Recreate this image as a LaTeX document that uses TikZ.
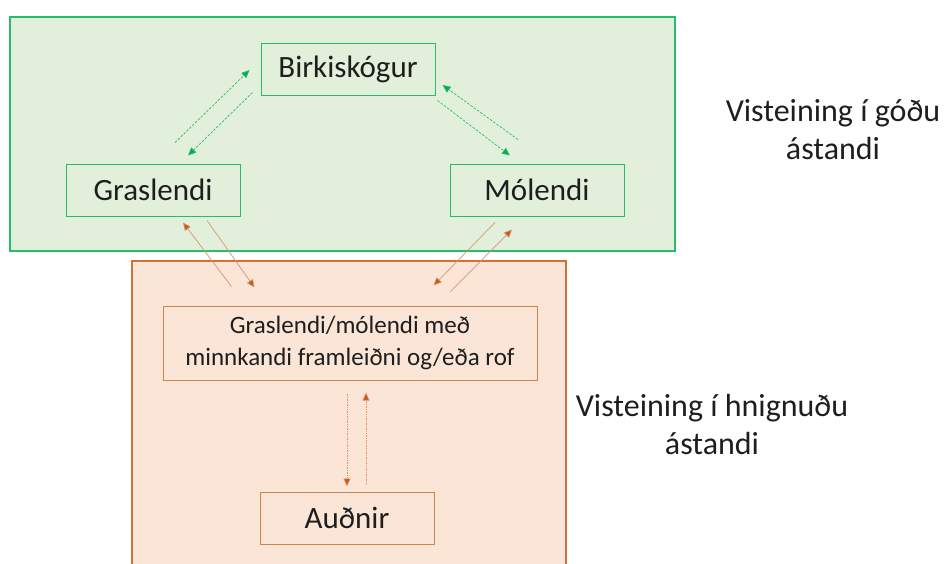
\documentclass[tikz,border=0pt]{standalone}
\usepackage{fontspec}
\setmainfont{Carlito}
\usetikzlibrary{arrows.meta, positioning}
\definecolor{goodgreen}{RGB}{0, 176, 80}
\definecolor{goodfill}{RGB}{226, 239, 218}
\definecolor{badorange}{RGB}{197, 90, 17}
\definecolor{badfill}{RGB}{251, 229, 214}
\definecolor{badline}{RGB}{214, 150, 110}
\definecolor{labeltext}{RGB}{30, 30, 30}

\tikzset{
  greenbox/.style={draw=goodgreen!85, line width=1pt, minimum width=174pt, minimum height=52pt, text=labeltext, font=\fontsize{31}{34}\selectfont},
  orangebox/.style={draw=badorange!75, line width=1pt, minimum width=174pt, minimum height=52pt, text=labeltext, font=\fontsize{31}{34}\selectfont},
  greenarrow/.style={draw=goodgreen!85, line width=0.7pt, dash pattern=on 2.5pt off 1.5pt, -{Triangle[length=8pt, width=7pt, fill=goodgreen]}},
  orangearrow/.style={draw=badline, line width=0.7pt, -{Triangle[length=8pt, width=7pt, fill=badorange]}},
  dotarrow/.style={draw=badline, line width=0.7pt, densely dotted, -{Triangle[length=8pt, width=7pt, fill=badorange]}},
  statelabel/.style={align=center, text=labeltext, font=\fontsize{32}{38}\selectfont}
}

\begin{document}
\begin{tikzpicture}[x=1pt, y=-1pt]
  \useasboundingbox (0,0) rectangle (944,563);
  \clip (0,0) rectangle (944,563);

  % the two states
  \draw[goodgreen!85, line width=1.5pt, fill=goodfill] (10,17) rectangle (675,251);
  \draw[badorange!85, line width=1.5pt, fill=badfill] (132,261) rectangle (566,575);

  % vegetation types
  \node[greenbox] (birk) at (348,69) {Birkiskógur};
  \node[greenbox] (gras) at (153,190) {Graslendi};
  \node[greenbox] (mol) at (537,190) {Mólendi};
  \node[orangebox, minimum width=374pt, minimum height=74pt, align=center,
        font=\fontsize{25}{32}\selectfont] (mid) at (350,343)
        {Graslendi/mólendi með\\minnkandi framleiðni og/eða rof};
  \node[orangebox] (aud) at (347,518) {Auðnir};

  \node[statelabel] (good) at (833,130) {Visteining í góðu\\ástandi};
  \node[statelabel] (bad) at (712,424) {Visteining í hnignuðu\\ástandi};

  % transitions within the good state
  \draw[greenarrow] ([shift={(22,-21)}]gras.north) -- ([shift={(-11,1)}]birk.west);
  \draw[greenarrow] ([shift={(-8,-3)}]birk.south west) -- ([shift={(35,-8)}]gras.north);
  \draw[greenarrow] ([shift={(-19,-24)}]mol.north) -- ([shift={(7,16)}]birk.east);
  \draw[greenarrow] ([shift={(2,5)}]birk.south east) -- ([shift={(-27,-8)}]mol.north);

  % degradation and recovery
  \draw[orangearrow] ([shift={(69,-19)}]mid.north west) -- ([shift={(30,6)}]gras.south);
  \draw[orangearrow] ([shift={(54,4)}]gras.south) -- ([shift={(92,-18)}]mid.north west);
  \draw[orangearrow] ([shift={(-42,6)}]mol.south) -- ([shift={(-104,-20)}]mid.north east);
  \draw[orangearrow] ([shift={(-87,-14)}]mid.north east) -- ([shift={(-25,13)}]mol.south);
  \draw[dotarrow] ([shift={(-3,13)}]mid.south) -- ([shift={(0,-5)}]aud.north);
  \draw[dotarrow] ([shift={(19,-7)}]aud.north) -- ([shift={(16,12)}]mid.south);
\end{tikzpicture}
\end{document}
